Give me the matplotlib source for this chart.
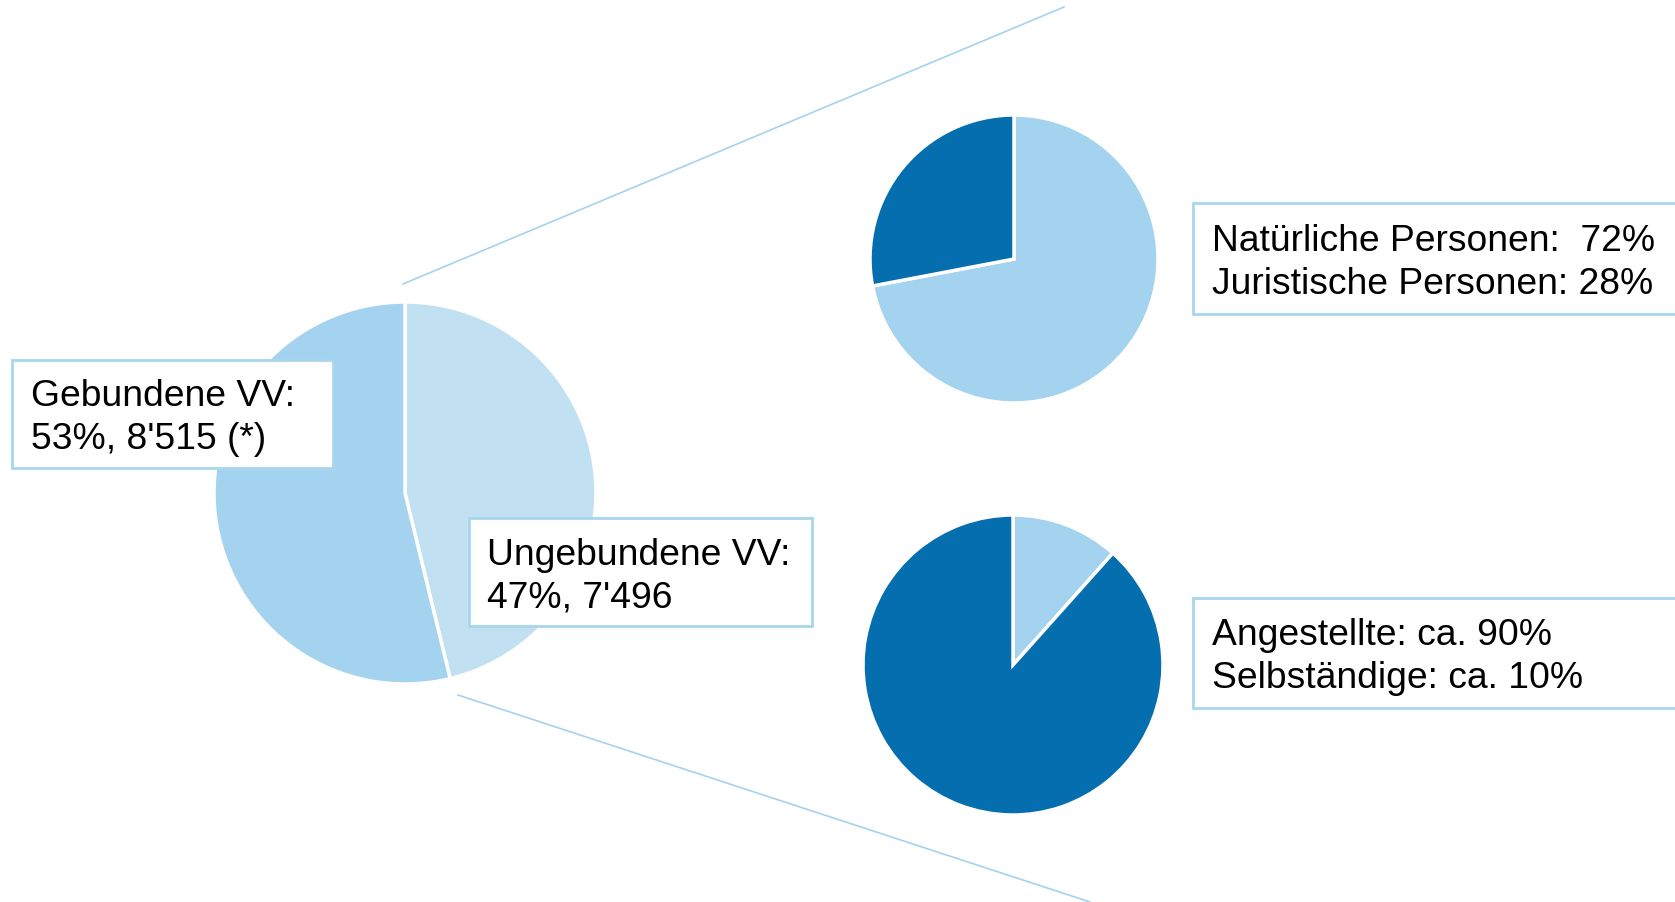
import matplotlib.pyplot as plt
from matplotlib.patches import Rectangle

plt.rcParams['font.family'] = ['Liberation Sans', 'DejaVu Sans']

# Daten (Anteile so, wie sie im Bild gezeichnet sind)
main_labels = ['Ungebundene VV', 'Gebundene VV']
main_values = [46.2, 53.8]
top_labels = ['Natürliche Personen', 'Juristische Personen']
top_values = [72, 28]
bottom_labels = ['Selbständige', 'Angestellte']
bottom_values = [11.6, 88.4]

main_text = ["Gebundene VV:", "53%, 8'515 (*)"]
ungeb_text = ["Ungebundene VV:", "47%, 7'496"]
top_text = ["Natürliche Personen:  72%", "Juristische Personen: 28%"]
bottom_text = ["Angestellte: ca. 90%", "Selbständige: ca. 10%"]

light = '#a3d3ee'
lighter = '#c1e0f1'
dark = '#046eae'
edge = '#a8d6ec'

W, H = 1675, 903


def Y(y):
    # Pixel von oben -> Datenkoordinate von unten
    return H - y


fig = plt.figure(figsize=(W / 100, H / 100), dpi=100)
ax = fig.add_axes([0, 0, 1, 1])

wp = dict(edgecolor='white', linewidth=2.5)
ax.pie(main_values, colors=[lighter, light], startangle=90, counterclock=False,
       center=(405, Y(494)), radius=191, wedgeprops=wp, frame=True)
ax.pie(top_values, colors=[light, dark], startangle=90, counterclock=False,
       center=(1014, Y(260)), radius=144, wedgeprops=wp, frame=True)
ax.pie(bottom_values, colors=[light, dark], startangle=90, counterclock=False,
       center=(1013, Y(666)), radius=150, wedgeprops=wp, frame=True)

# Verbindungslinien
ax.plot([403, 1064], [Y(285), Y(8)], color=light, lw=1.2)
ax.plot([458, 1090], [Y(696), Y(903)], color=light, lw=1.2)


def box(x0, y0, x1, y1, lines, tx, baselines):
    ax.add_patch(Rectangle((x0, Y(y1)), x1 - x0, y1 - y0, facecolor='white',
                           edgecolor=edge, linewidth=2, zorder=3))
    for line, b in zip(lines, baselines):
        ax.text(tx, Y(b), line, fontsize=26.8, va='baseline', ha='left',
                color='black', zorder=4)


box(12, 361, 333, 469, main_text, 31, [406, 449])
box(469, 519, 812, 627, ungeb_text, 487, [565, 608])
box(1193, 204, 1700, 315, top_text, 1212, [251, 294])
box(1193, 599, 1700, 709, bottom_text, 1212, [645, 688])

ax.set_xlim(0, W)
ax.set_ylim(0, H)
ax.set_aspect('equal')
ax.axis('off')

fig.savefig('out.png', dpi=100)
